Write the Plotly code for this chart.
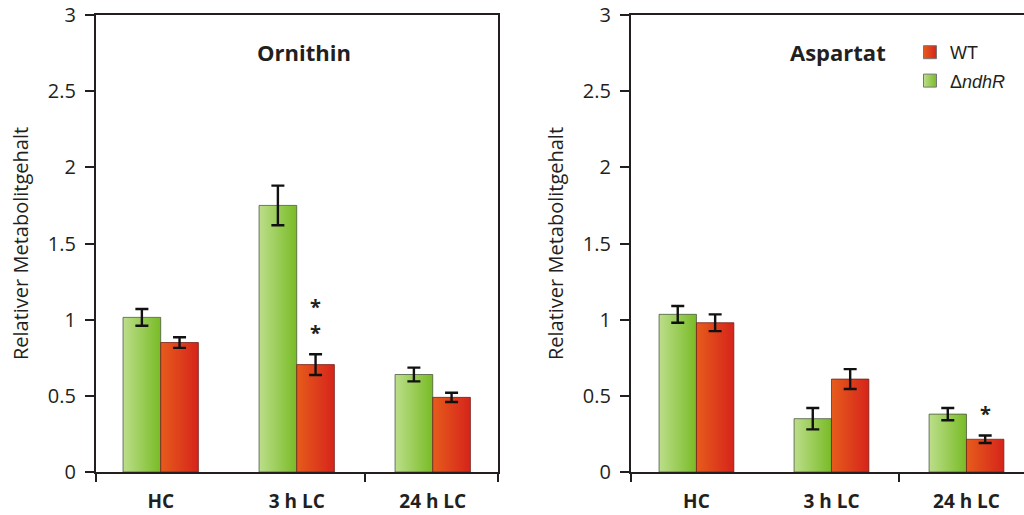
import plotly.graph_objects as go

# ---------------- data ----------------
categories = ["HC", "3 h LC", "24 h LC"]

orn_wt = [0.85, 0.705, 0.49]
orn_wt_err = [0.035, 0.068, 0.03]
orn_ko = [1.015, 1.75, 0.64]
orn_ko_err = [0.055, 0.13, 0.045]
orn_sig = ["", "*<br>*", ""]

asp_wt = [0.98, 0.61, 0.215]
asp_wt_err = [0.055, 0.065, 0.025]
asp_ko = [1.035, 0.35, 0.38]
asp_ko_err = [0.055, 0.07, 0.04]
asp_sig = ["", "", "*"]

panel_titles = ["Ornithin", "Aspartat"]
series_names = ["WT", "Δ<i>ndhR</i>"]
y_title = "Relativer Metabolitgehalt"

# ---------------- style ----------------
W, H = 1024, 515
BAR_W = 0.277
GREEN = ["#bcde8a", "#79bb26"]
RED = ["#e65c1c", "#d6241b"]
AX = "#231f20"
FONT = "Open Sans"

fig = go.Figure()

panels = [
    dict(wt=orn_wt, wte=orn_wt_err, ko=orn_ko, koe=orn_ko_err, sig=orn_sig,
         xa="x", ya="y"),
    dict(wt=asp_wt, wte=asp_wt_err, ko=asp_ko, koe=asp_ko_err, sig=asp_sig,
         xa="x2", ya="y2"),
]

for p in panels:
    # green (ΔndhR) left of centre, red (WT) right of centre
    for vals, errs, off, cols, edge in [
        (p["ko"], p["koe"], -1, GREEN, "rgba(70,80,60,0.75)"),
        (p["wt"], p["wte"], 0, RED, "rgba(110,30,20,0.75)"),
    ]:
        for i, v in enumerate(vals):
            x0 = i + off * BAR_W
            x1 = x0 + BAR_W
            fig.add_trace(go.Scatter(
                x=[x0, x0, x1, x1, x0], y=[0, v, v, 0, 0],
                mode="lines", fill="toself",
                fillgradient=dict(type="horizontal",
                                  colorscale=[[0, cols[0]], [1, cols[1]]]),
                line=dict(color=edge, width=1),
                xaxis=p["xa"], yaxis=p["ya"], showlegend=False,
                hoverinfo="skip"))
        centers = [i + (off + 0.5) * BAR_W for i in range(len(vals))]
        fig.add_trace(go.Scatter(
            x=centers, y=vals, mode="markers",
            marker=dict(size=1, color="rgba(0,0,0,0)"),
            error_y=dict(type="data", array=errs, color="#111111",
                         thickness=2.4, width=6.5),
            xaxis=p["xa"], yaxis=p["ya"], showlegend=False))

    # significance stars above WT bars
    for i, s in enumerate(p["sig"]):
        if s:
            fig.add_annotation(
                x=i + 0.5 * BAR_W, y=p["wt"][i] + p["wte"][i],
                xref=p["xa"], yref=p["ya"], text=s, showarrow=False,
                yanchor="bottom", yshift=6,
                font=dict(family=FONT, size=20, color=AX, weight="bold"))

# legend entries
fig.add_trace(go.Scatter(
    x=[None], y=[None], mode="markers", name=series_names[0],
    legendgroup="a",
    marker=dict(symbol="square", size=13, color=RED[0],
                gradient=dict(type="horizontal", color=RED[1]),
                line=dict(width=1, color="#777")),
    xaxis="x2", yaxis="y2"))
fig.add_trace(go.Scatter(
    x=[None], y=[None], mode="markers", name=series_names[1],
    legendgroup="b",
    marker=dict(symbol="square", size=13, color=GREEN[0],
                gradient=dict(type="horizontal", color=GREEN[1]),
                line=dict(width=1, color="#777")),
    xaxis="x2", yaxis="y2"))

# titles
for xp, t in zip([304 / W, 838 / W], panel_titles):
    fig.add_annotation(x=xp, y=1 - 52 / H, xref="paper", yref="paper",
                       text=t, showarrow=False, xanchor="center",
                       yanchor="middle",
                       font=dict(family=FONT, size=22, color=AX,
                                 weight="bold"))

ydom = [1 - 472 / H, 1 - 15 / H]
common_x = dict(tickvals=[0, 1, 2], ticktext=categories, ticks="",
                showline=True, linecolor=AX, linewidth=1.6,
                showgrid=False, zeroline=False, mirror=True,
                ticklabelstandoff=11, automargin=False,
                tickfont=dict(family=FONT, size=19, color=AX, weight="bold"))
common_y = dict(range=[0, 3], dtick=0.5, tick0=0, ticks="outside",
                ticklen=9, tickwidth=1.6, tickcolor=AX,
                showline=True, linecolor=AX, linewidth=1.6,
                showgrid=False, zeroline=False, domain=ydom,
                ticklabelstandoff=5, automargin=False,
                tickfont=dict(family=FONT, size=20, color=AX),
                title=dict(text=y_title, standoff=14,
                           font=dict(family=FONT, size=20, color=AX)))

xr1 = [-0.478, 2.482]
xr2 = [-0.487, 2.426]

fig.update_layout(
    width=W, height=H, autosize=False,
    margin=dict(l=0, r=0, t=0, b=0, pad=0, autoexpand=False),
    paper_bgcolor="white", plot_bgcolor="white",
    xaxis=dict(domain=[95.7 / W, 498.3 / W], range=xr1,
               minor=dict(tickmode="array", tickvals=[xr1[0], 1.5, xr1[1]],
                          ticks="outside", ticklen=8, tickwidth=1.6,
                          tickcolor=AX),
               anchor="y", **common_x),
    yaxis=dict(anchor="x", mirror=True, **common_y),
    xaxis2=dict(domain=[630.7 / W, 1.0], range=xr2,
                minor=dict(tickmode="array", tickvals=[xr2[0], 1.5],
                           ticks="outside", ticklen=8, tickwidth=1.6,
                           tickcolor=AX),
                anchor="y2", **common_x),
    yaxis2=dict(anchor="x2", mirror=False, **common_y),
    legend=dict(x=910 / W, y=1 - 34 / H, xanchor="left", yanchor="top",
                bgcolor="rgba(0,0,0,0)", borderwidth=0,
                traceorder="grouped", tracegroupgap=2,
                font=dict(family="Liberation Sans", size=18, color=AX)),
    showlegend=True,
)

fig.write_html("out.html")
